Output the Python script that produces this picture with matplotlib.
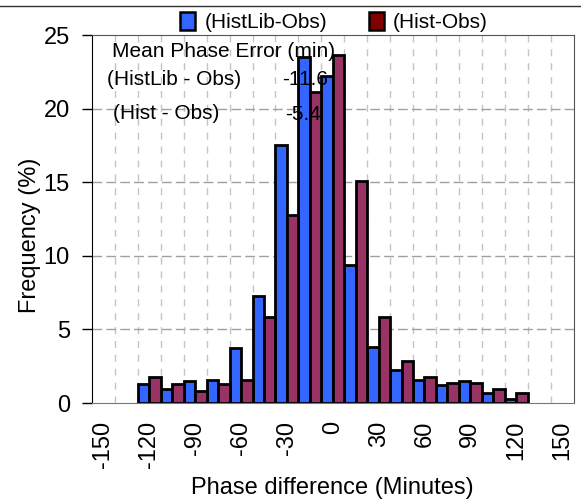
import matplotlib
matplotlib.use("Agg")
import matplotlib.pyplot as plt
from matplotlib.patches import Patch
from matplotlib.lines import Line2D
import numpy as np

plt.rcParams['font.family'] = ['Liberation Sans', 'DejaVu Sans']

# Categories (phase difference bins, minutes)
categories = [-150, -135, -120, -105, -90, -75, -60, -45, -30, -15, 0,
              15, 30, 45, 60, 75, 90, 105, 120, 135, 150]
histlib_obs = [0, 0, 1.29, 0.95, 1.50, 1.56, 3.72, 7.30, 17.55, 23.5, 22.2,
               9.39, 3.79, 2.24, 1.56, 1.22, 1.50, 0.66, 0.29, 0, 0]
hist_obs = [0, 0, 1.75, 1.29, 0.84, 1.29, 1.56, 5.87, 12.79, 21.1, 23.65,
            15.1, 5.87, 2.88, 1.75, 1.38, 1.38, 0.95, 0.66, 0, 0]
tick_labels = [str(c) if i % 2 == 0 else '' for i, c in enumerate(categories)]
series_names = ['(HistLib-Obs)', '(Hist-Obs)']
mean_errors = ['-11.6', '-5.4']

blue = '#3366FF'
red = '#993366'
legend_red = '#800000'

fig = plt.figure(figsize=(5.81, 5.0), dpi=100)
ax = fig.add_axes([92/581, 97/500, 481.5/581, 368/500])

x = np.arange(len(categories))
mask = [i for i in range(len(categories)) if histlib_obs[i] > 0 or hist_obs[i] > 0]
xb = np.array(mask)
ax.bar(xb - 0.25, [histlib_obs[i] for i in mask], width=0.5, color=blue,
       edgecolor='black', linewidth=2.0, zorder=3)
ax.bar(xb + 0.25, [hist_obs[i] for i in mask], width=0.5, color=red,
       edgecolor='black', linewidth=2.0, zorder=3)

ax.set_xlim(-0.5, len(categories) - 0.5)
ax.set_ylim(0, 25)
ax.set_yticks([0, 5, 10, 15, 20, 25])
ax.set_xticks(x)
ax.set_xticklabels(tick_labels, rotation=90, fontsize=17)
ax.tick_params(axis='x', length=0, pad=13)
ax.tick_params(axis='y', length=7, width=1, labelsize=17, pad=9)

# grid
for b in np.arange(0.5, len(categories) - 0.5, 1):
    ax.axvline(b, color='#c4c4c4', linewidth=1, linestyle=(0, (5, 5)), zorder=1)
for yv in [5, 10, 15, 20]:
    ax.axhline(yv, color='#a0a0a0', linewidth=1, linestyle=(0, (7, 3)), zorder=1)

for s in ['top', 'right']:
    ax.spines[s].set_color('#555555')
ax.spines['bottom'].set_color('#777777')
ax.spines['left'].set_color('black')

ax.set_xlabel('Phase difference (Minutes)', fontsize=17, labelpad=6)
ax.set_ylabel('Frequency (%)', fontsize=17)
ax.yaxis.set_label_coords(-0.106, 0.455)

# annotations
tk = dict(transform=ax.transAxes, fontsize=15, va='center', ha='left', zorder=5)
ax.text(0.0415, 0.954, 'Mean Phase Error (min)', **tk)
ax.text(0.031, 0.878, '(HistLib - Obs)', **tk)
ax.text(0.395, 0.878, mean_errors[0], **tk)
ax.text(0.0436, 0.788, '(Hist - Obs)', **tk)
ax.text(0.401, 0.783, mean_errors[1], **tk)

handles = [Patch(facecolor=blue, edgecolor='black', linewidth=1.8),
           Patch(facecolor=legend_red, edgecolor='black', linewidth=1.8)]
fig.legend(handles, series_names, loc='center', bbox_to_anchor=(0.575, 0.956),
           ncol=2, frameon=False, fontsize=15, handlelength=0.72,
           handleheight=0.95, handletextpad=0.45, columnspacing=2.0,
           borderaxespad=0, borderpad=0)

fig.add_artist(Line2D([0, 1], [1 - 5.5/500, 1 - 5.5/500], transform=fig.transFigure,
                      color='#333333', linewidth=1))

fig.savefig('out.png', dpi=100)
